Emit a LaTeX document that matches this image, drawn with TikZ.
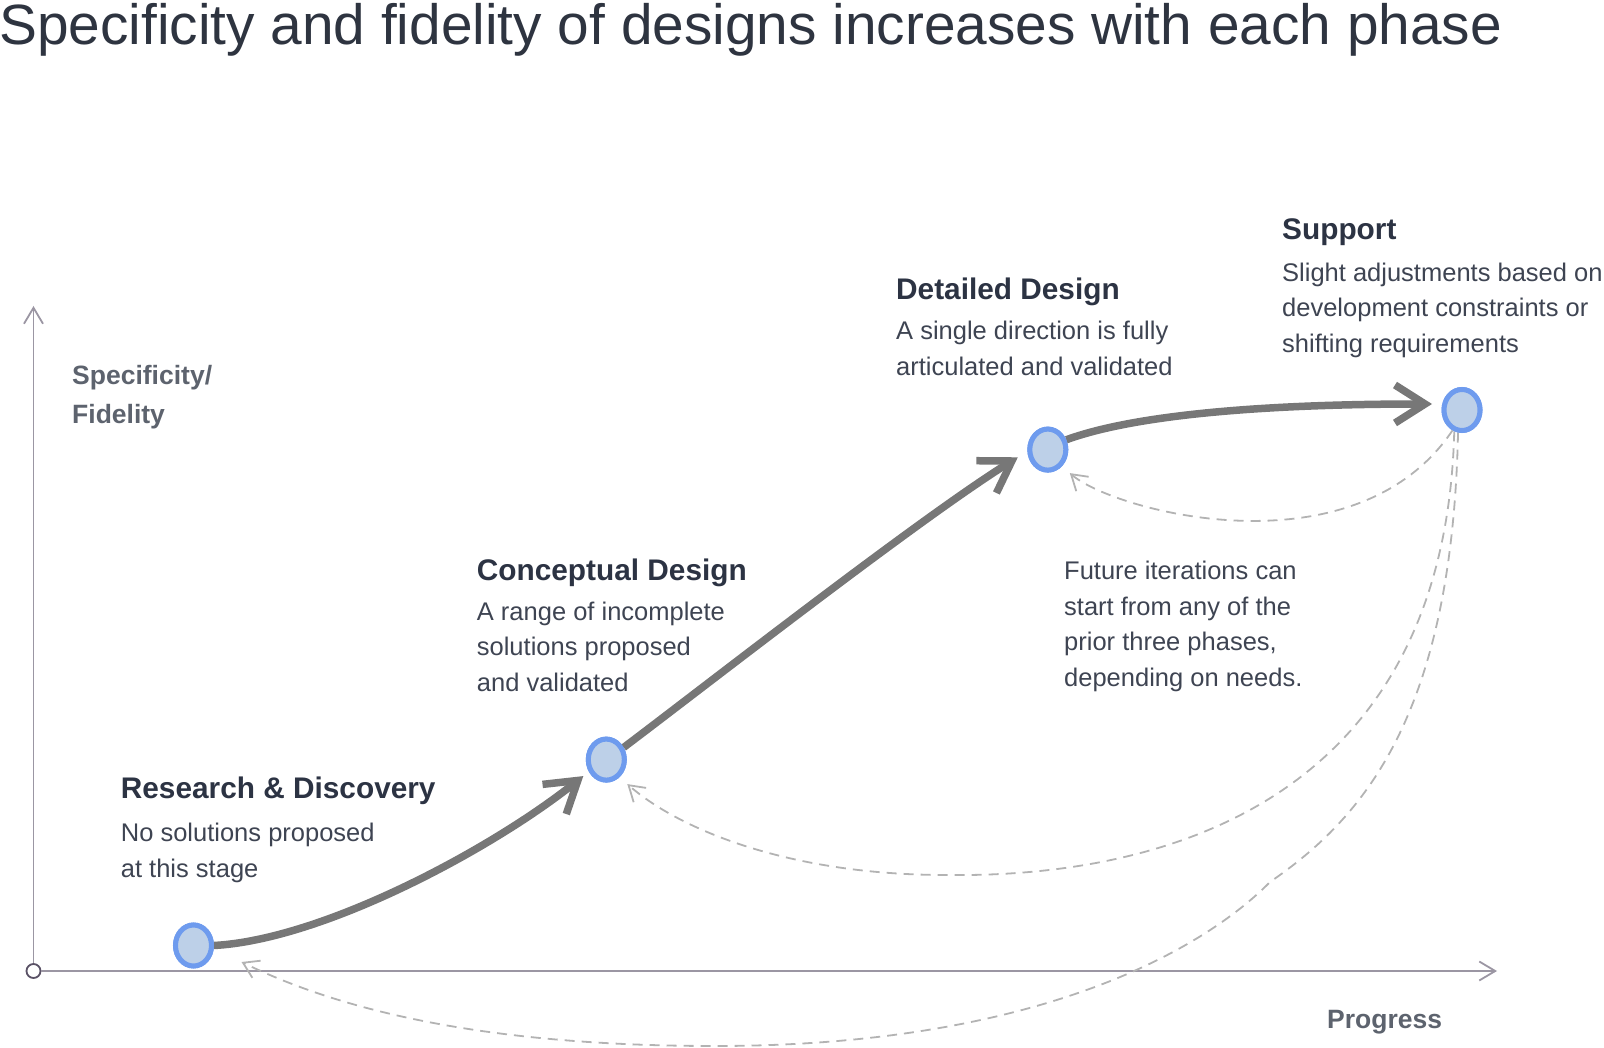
\documentclass[tikz,border=0pt]{standalone}
\usepackage{fontspec}
\setmainfont{Liberation Sans}
\usetikzlibrary{arrows.meta,shapes.geometric}

\definecolor{titlecol}{HTML}{2E3440}
\definecolor{headcol}{HTML}{2C3343}
\definecolor{bodycol}{HTML}{3E4452}
\definecolor{axislab}{HTML}{5D636E}
\definecolor{axiscol}{HTML}{9B96A3}
\definecolor{origincol}{HTML}{5A5266}
\definecolor{ringblue}{HTML}{6E9BEE}
\definecolor{phasefill}{HTML}{BDD0E8}
\definecolor{flowgray}{HTML}{777777}
\definecolor{loopgray}{HTML}{B3B3B3}

\tikzset{
  phase/.style={ellipse, draw=ringblue, fill=phasefill, line width=5pt,
    minimum width=36pt, minimum height=41pt, inner sep=0pt},
  flow/.style={draw=flowgray, line width=7.5pt,
    -{Straight Barb[length=30pt,width=38pt]}},
  loopback/.style={draw=loopgray, line width=1.8pt, dash pattern=on 10pt off 7pt,
    -{Straight Barb[length=15pt,width=19pt]}},
  axisline/.style={draw=axiscol, line width=1.8pt,
    -{Straight Barb[length=16pt,width=19pt]}},
  % multi-line nodes sit on the baseline of their last line
  heading/.style={anchor=base west, inner sep=0pt, text=headcol,
    font=\bfseries\fontsize{29.8}{36}\selectfont},
  body/.style={anchor=base west, inner sep=0pt, text=bodycol, align=left,
    font=\fontsize{25.5}{35.6}\selectfont},
  axislabel/.style={anchor=base west, inner sep=0pt, text=axislab, align=left,
    font=\bfseries\fontsize{26.5}{39.5}\selectfont},
}

\begin{document}
\begin{tikzpicture}[x=1pt,y=-1pt]
\useasboundingbox (0,0) rectangle (1604,1048);

% title
\node[anchor=base west, inner sep=0pt, text=titlecol, font=\fontsize{56.8}{60}\selectfont]
  (title) at (-1,44.5) {Specificity and fidelity of designs increases with each phase};

% axes
\node[circle, draw=origincol, fill=white, line width=1.8pt, minimum size=14pt, inner sep=0pt]
  (origin) at (33.5,971) {};
\coordinate (ytop) at (33.5,306);
\coordinate (xend) at (1497,971);
\draw[axisline] (origin.north) -- (ytop);
\draw[axisline] (origin.east) -- (xend);
\node[axislabel] (ylab) at (72,424) {Specificity/\\Fidelity};
\node[axislabel] (xlab) at (1327,1028) {Progress};

% phases
\node[phase] (rd) at (193.5,945.5) {};
\node[phase] (cd) at (606.3,759.6) {};
\node[phase] (dd) at (1047.8,449.6) {};
\node[phase] (sp) at (1462,410) {};

% iteration loops back from support
\draw[loopback] (sp.-115) .. controls (1355,575) and (1115,512) .. ([shift={(22,23.5)}]dd.center);
\draw[loopback] (sp.-110) .. controls (1445,790) and (1180,878) .. (946,875)
  .. controls (790,875) and (680,830) .. ([shift={(21,24.5)}]cd.center);
\draw[loopback] (sp.-100) .. controls (1452,720) and (1360,820) .. (1270,882)
  .. controls (1205,948) and (1040,1046) .. (715,1046)
  .. controls (455,1046) and (320,1000) .. ([shift={(48,16.5)}]rd.center);

% forward progression
\draw[flow] (rd.east) .. controls +(110,-6) and +(-90,72) .. ([shift={(-23,16.5)}]cd.center);
\draw[flow] (cd.35) .. controls +(77,-58) and +(-98,61) .. ([shift={(-30,7.7)}]dd.center);
\draw[flow] (dd.28) .. controls +(74,-27) and +(-152,0) .. ([shift={(-30,-6)}]sp.center);

% phases drawn over the connector ends
\node[phase] at (rd) {};
\node[phase] at (cd) {};
\node[phase] at (dd) {};
\node[phase] at (sp) {};

% labels
\node[heading] (rdh) at (120.7,798) {Research \& Discovery};
\node[body] (rdt) at (120.7,877.3) {No solutions proposed\\at this stage};
\node[heading] (cdh) at (476.7,580) {Conceptual Design};
\node[body] (cdt) at (476.7,691.2) {A range of incomplete\\solutions proposed\\and validated};
\node[heading] (ddh) at (896,299.7) {Detailed Design};
\node[body] (ddt) at (896,375.2) {A single direction is fully\\articulated and validated};
\node[heading] (sph) at (1282,239.4) {Support};
\node[body] (spt) at (1282,352.5) {Slight adjustments based on\\development constraints or\\shifting requirements};
\node[body] (note) at (1064,686.5) {Future iterations can\\start from any of the\\prior three phases,\\depending on needs.};
\end{tikzpicture}
\end{document}
